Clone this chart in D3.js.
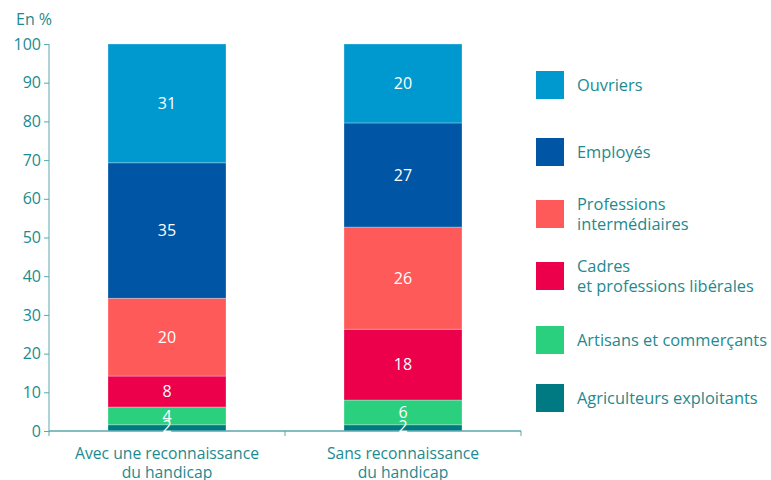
<!DOCTYPE html>
<html>
<head>
<meta charset="utf-8">
<script src="https://cdn.jsdelivr.net/npm/d3@7"></script>
<style>
  body { margin: 0; background: #fff; }
  text { font-family: "Open Sans", "Noto Sans", sans-serif; }
</style>
</head>
<body>
<script>
// categories (x axis), bottom to top series order
const categories = ["Avec une reconnaissance\ndu handicap", "Sans reconnaissance\ndu handicap"];
const seriesNames = [
    "Agriculteurs exploitants",
    "Artisans et commerçants",
    "Cadres\net professions libérales",
    "Professions\nintermédiaires",
    "Employés",
    "Ouvriers"
];
const seriesColors = ["#007a82", "#2bd07f", "#ec004c", "#ff5a5a", "#0055a4", "#0099cf"];
// segment sizes as drawn (per category)
const avecValues = [1.6, 4.6, 8.0, 20.1, 35.0, 30.7];
const sansValues = [1.6, 6.4, 18.3, 26.4, 26.9, 20.4];
// labels printed on the segments
const avecLabels = [2, 4, 8, 20, 35, 31];
const sansLabels = [2, 6, 18, 26, 27, 20];
const yTicks = [0, 10, 20, 30, 40, 50, 60, 70, 80, 90, 100];

const textColor = "#1d8a90";
const axisColor = "#5aa7ad";

window.onload = main;

function main() {
    const width = 771, height = 480;
    const svg = d3.select("body").append("svg")
        .attr("width", width)
        .attr("height", height);

    const x = d3.scaleBand()
        .domain(categories)
        .range([49, 521])
        .paddingInner(0.5)
        .paddingOuter(0.25);

    const y = d3.scaleLinear()
        .domain([0, 100])
        .range([431, 44]);

    const rows = [
        { cat: categories[0], values: avecValues, labels: avecLabels },
        { cat: categories[1], values: sansValues, labels: sansLabels }
    ];
    const data = rows.map(r => {
        const o = { cat: r.cat };
        seriesNames.forEach((s, i) => { o[s] = r.values[i]; });
        return o;
    });
    const stacked = d3.stack().keys(seriesNames)(data);

    // bars
    const layers = svg.append("g")
        .selectAll("g")
        .data(stacked)
        .join("g")
        .attr("fill", (d, i) => seriesColors[i]);

    layers.selectAll("rect")
        .data(d => d)
        .join("rect")
        .attr("x", d => x(d.data.cat))
        .attr("y", d => y(d[1]))
        .attr("width", x.bandwidth())
        .attr("height", d => y(d[0]) - y(d[1]))
        .attr("stroke", "rgba(255,255,255,0.35)")
        .attr("stroke-width", 0.8);

    // y axis
    const yAxis = svg.append("g")
        .attr("transform", "translate(49,0)")
        .call(d3.axisLeft(y).tickValues(yTicks).tickSize(5).tickPadding(3).tickSizeOuter(0));
    yAxis.select(".domain").attr("stroke", axisColor).attr("d", `M0,${y(100)}V${y(0) + 5}`);
    yAxis.selectAll(".tick line").attr("stroke", axisColor);
    yAxis.selectAll(".tick text")
        .attr("fill", textColor)
        .style("font-size", "16px");

    // x axis
    const xAxis = svg.append("g")
        .attr("transform", `translate(0,${y(0)})`)
        .call(d3.axisBottom(x).tickSize(0).tickFormat(""));
    xAxis.select(".domain").attr("stroke", axisColor).attr("stroke-width", 1.3)
        .attr("d", `M${x.range()[0]},0H${x.range()[1]}`);
    const bounds = categories.map(c => x(c) - x.step() * x.paddingOuter() + x.step());
    xAxis.selectAll(".bound")
        .data(bounds)
        .join("line")
        .attr("class", "bound")
        .attr("x1", d => d).attr("x2", d => d)
        .attr("y1", 0).attr("y2", 5)
        .attr("stroke", axisColor);

    // segment labels (drawn on top of the axis)
    stacked.forEach((layer, i) => {
        svg.append("g").selectAll("text")
            .data(layer)
            .join("text")
            .attr("x", d => x(d.data.cat) + x.bandwidth() / 2)
            .attr("y", d => (y(d[0]) + y(d[1])) / 2 - (i === 0 ? 2 : 0))
            .attr("dy", "0.36em")
            .attr("text-anchor", "middle")
            .attr("fill", "#fff")
            .style("font-size", "16px")
            .text((d, j) => rows[j].labels[i]);
    });

    // category labels
    categories.forEach(c => {
        const t = svg.append("text")
            .attr("x", x(c) + x.bandwidth() / 2)
            .attr("y", 459)
            .attr("text-anchor", "middle")
            .attr("fill", textColor)
            .style("font-size", "15.7px");
        c.split("\n").forEach((line, k) => {
            t.append("tspan")
                .attr("x", x(c) + x.bandwidth() / 2)
                .attr("dy", k === 0 ? 0 : 19)
                .text(line);
        });
    });

    // unit label
    svg.append("text")
        .attr("x", 16)
        .attr("y", 25)
        .attr("fill", textColor)
        .style("font-size", "16px")
        .text("En %");

    // legend, top to bottom
    const legendY = [71, 138, 200, 262, 326, 384];
    const legendOrder = seriesNames.slice().reverse();
    const legend = svg.append("g");
    legendOrder.forEach((name, i) => {
        const color = seriesColors[seriesNames.indexOf(name)];
        const g = legend.append("g").attr("transform", `translate(536,${legendY[i]})`);
        g.append("rect")
            .attr("width", 28)
            .attr("height", 28)
            .attr("fill", color);
        const lines = name.split("\n");
        const t = g.append("text")
            .attr("x", 41)
            .attr("y", 14 - (lines.length - 1) * 10)
            .attr("fill", textColor)
            .style("font-size", "16.4px");
        lines.forEach((line, k) => {
            t.append("tspan")
                .attr("x", 41)
                .attr("dy", k === 0 ? "0.36em" : 20)
                .text(line);
        });
    });
}
</script>
</body>
</html>
